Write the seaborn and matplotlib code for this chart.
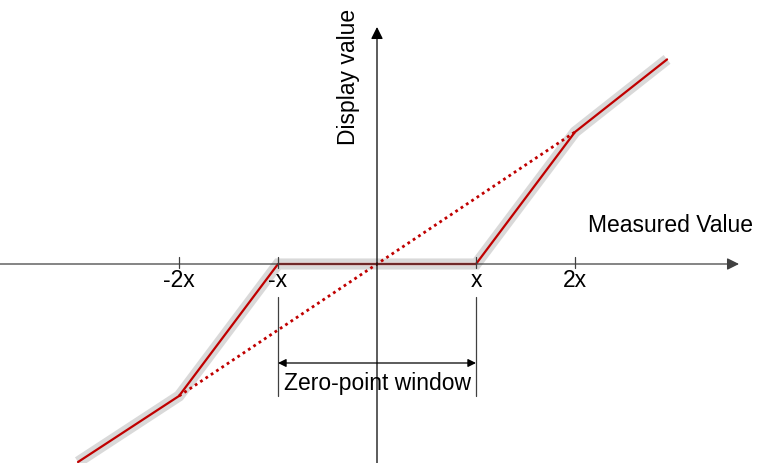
import pandas as pd
import seaborn as sns
import matplotlib.pyplot as plt

# Kennlinie mit Nullpunktfenster (Einheiten: x = Messwert, y = Anzeigewert)
measured = [-3.02, -2.0, -1.0, 1.0, 2.0, 2.93]
display = [-3.0, -2.0, 0.0, 0.0, 2.0, 3.1]
ideal_x = [-2.0, 2.0]
ideal_y = [-2.0, 2.0]
tick_pos = [-2, -1, 1, 2]
tick_labels = ["-2x", "-x", "x", "2x"]
window = [-1.0, 1.0]

sns.set_style("white")
plt.rcParams['font.family'] = ['Liberation Sans', 'DejaVu Sans']
plt.rcParams['text.color'] = 'black'

fig = plt.figure(figsize=(7.58, 4.64), dpi=100)
ax = fig.add_axes([0, 0, 1, 1])
ax.set_xlim(-377 / 99, 381 / 99)
ax.set_ylim(-199 / 66, 265 / 66)
ax.axis("off")

df = pd.DataFrame({"Measured": measured, "Display": display})

# grauer Schatten + rote Kennlinie
sns.lineplot(data=df, x="Measured", y="Display", sort=False, color="#d9d9d9",
             linewidth=8, solid_capstyle="butt", solid_joinstyle="miter", ax=ax, zorder=1)
sns.lineplot(data=df, x="Measured", y="Display", sort=False, color="#c00000",
             linewidth=1.6, ax=ax, zorder=3)
sns.lineplot(x=ideal_x, y=ideal_y, color="#c00000", linewidth=2,
             linestyle=(0, (1, 1.3)), ax=ax, zorder=3)

# Achsen mit Pfeil
ax.annotate("", xy=(362 / 99, 0), xytext=(-377 / 99, 0),
            arrowprops=dict(arrowstyle="-|>", color="#404040", lw=0.9,
                            mutation_scale=18, shrinkA=0, shrinkB=0), zorder=4)
ax.annotate("", xy=(0, 237 / 66), xytext=(0, -199 / 66),
            arrowprops=dict(arrowstyle="-|>", color="black", lw=0.9,
                            mutation_scale=18, shrinkA=0, shrinkB=0), zorder=4)

# Ticks und Beschriftung
for p, lab in zip(tick_pos, tick_labels):
    ax.plot([p, p], [0.11, -0.06], color="#404040", lw=0.9, zorder=4)
    ax.text(p, -22 / 66, lab, ha="center", va="baseline", fontsize=16.5)

# Nullpunktfenster
for w in window:
    ax.plot([w, w], [-0.5, -2.0], color="#404040", lw=0.9, zorder=4)
ax.annotate("", xy=(window[0], -1.5), xytext=(window[1], -1.5),
            arrowprops=dict(arrowstyle="<|-|>", color="black", lw=0.9,
                            mutation_scale=12, shrinkA=0, shrinkB=0), zorder=4)
ax.text(0, -125 / 66, "Zero-point window", ha="center", va="baseline", fontsize=16.5)

ax.text(211 / 99, 39 / 66, "Measured Value", ha="left", va="center", fontsize=16.5)
ax.text(-28 / 99, 188 / 66, "Display value", ha="center", va="center",
        rotation=90, fontsize=16.5)

plt.savefig("out.png", dpi=100)
plt.close()
